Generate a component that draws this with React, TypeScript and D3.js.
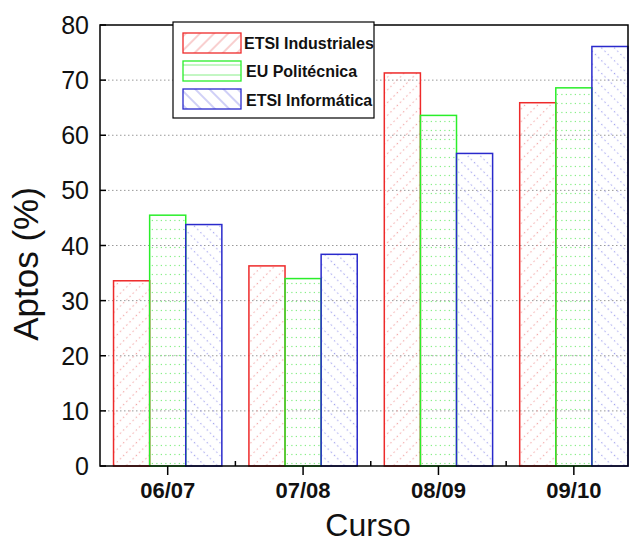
import React, { useEffect, useRef } from 'react';
import * as d3 from 'd3';

const cursos = ['06/07', '07/08', '08/09', '09/10'];
const series = ['ETSI Industriales', 'EU Politécnica', 'ETSI Informática'];
const industriales = [33.6, 36.3, 71.3, 65.9];
const politecnica = [45.5, 34.0, 63.6, 68.6];
const informatica = [43.8, 38.4, 56.7, 76.1];
const yTicks = [0, 10, 20, 30, 40, 50, 60, 70, 80];

const colors = ['#ee2a2a', '#2aee2a', '#2a2acc'];
const hatch = ['#f2a0a0', '#88ee88', '#a0a0ee'];
const angles = [45, 90, -45];

function App() {
  const ref = useRef<SVGSVGElement>(null);

  useEffect(() => {
    const width = 636;
    const height = 544;
    const left = 100, right = 628, top = 25, bottom = 466;

    const svg = d3.select(ref.current);
    svg.selectAll('*').remove();

    const values = [industriales, politecnica, informatica];

    // x is a continuous axis like in Origin: categories at 1..4
    const x = d3.scaleLinear().domain([0.5, 4.4]).range([left, right]);
    const y = d3.scaleLinear().domain([0, 80]).range([bottom, top]);
    const barW = 0.8 / 3;

    const defs = svg.append('defs');
    series.forEach((s, i) => {
      // dotted hatch for the bars
      const p = defs
        .append('pattern')
        .attr('id', `bar-${i}`)
        .attr('patternUnits', 'userSpaceOnUse')
        .attr('width', 9)
        .attr('height', 9)
        .attr('patternTransform', `rotate(${angles[i]})`);
      p.append('line')
        .attr('x1', 4.5).attr('x2', 4.5)
        .attr('y1', 0).attr('y2', 9)
        .attr('stroke', hatch[i])
        .attr('stroke-width', 1.2)
        .attr('stroke-dasharray', '1.2 3.3');

      // solid hatch for the legend
      const q = defs
        .append('pattern')
        .attr('id', `leg-${i}`)
        .attr('patternUnits', 'userSpaceOnUse')
        .attr('width', 10)
        .attr('height', 10)
        .attr('patternTransform', `rotate(${angles[i]})`);
      q.append('line')
        .attr('x1', 5).attr('x2', 5)
        .attr('y1', 0).attr('y2', 10)
        .attr('stroke', hatch[i])
        .attr('stroke-width', 1);
    });

    // grid lines
    svg
      .append('g')
      .selectAll('line')
      .data(yTicks.filter((t) => t > 0 && t < 80))
      .enter()
      .append('line')
      .attr('x1', left)
      .attr('x2', right)
      .attr('y1', (d) => y(d))
      .attr('y2', (d) => y(d))
      .attr('stroke', '#999')
      .attr('stroke-width', 1)
      .attr('stroke-dasharray', '1.5 2.5');

    // bars
    values.forEach((vals, i) => {
      svg
        .append('g')
        .selectAll('rect')
        .data(vals)
        .enter()
        .append('rect')
        .attr('x', (d, k) => x(k + 1 - 1.5 * barW + i * barW))
        .attr('y', (d) => y(d))
        .attr('width', x(barW) - x(0))
        .attr('height', (d) => y(0) - y(d))
        .attr('fill', `url(#bar-${i})`)
        .attr('stroke', colors[i])
        .attr('stroke-width', 1.5);
    });

    // frame
    svg
      .append('rect')
      .attr('x', left)
      .attr('y', top)
      .attr('width', right - left)
      .attr('height', bottom - top)
      .attr('fill', 'none')
      .attr('stroke', '#000')
      .attr('stroke-width', 1.5);

    // y ticks + labels
    const yAxis = svg.append('g').attr('font-family', 'Liberation Sans, Arial, sans-serif');
    yTicks.forEach((t) => {
      yAxis
        .append('line')
        .attr('x1', left)
        .attr('x2', left + 6)
        .attr('y1', y(t))
        .attr('y2', y(t))
        .attr('stroke', '#000')
        .attr('stroke-width', 1.5);
      yAxis
        .append('text')
        .attr('x', 89)
        .attr('y', y(t))
        .attr('dy', '0.36em')
        .attr('text-anchor', 'end')
        .attr('font-size', 25)
        .attr('fill', '#111')
        .text(t);
    });

    // x ticks + labels
    const xAxis = svg.append('g').attr('font-family', 'Liberation Sans, Arial, sans-serif');
    cursos.forEach((c, k) => {
      xAxis
        .append('line')
        .attr('x1', x(k + 1))
        .attr('x2', x(k + 1))
        .attr('y1', bottom)
        .attr('y2', bottom + 9)
        .attr('stroke', '#000')
        .attr('stroke-width', 1.5);
      xAxis
        .append('text')
        .attr('x', x(k + 1))
        .attr('y', 498)
        .attr('text-anchor', 'middle')
        .attr('font-size', 22)
        .attr('font-weight', 'bold')
        .attr('fill', '#111')
        .text(c);
    });
    [1.5, 2.5, 3.5].forEach((m) => {
      xAxis
        .append('line')
        .attr('x1', x(m))
        .attr('x2', x(m))
        .attr('y1', bottom)
        .attr('y2', bottom - 5)
        .attr('stroke', '#000')
        .attr('stroke-width', 1.5);
    });

    // axis titles
    svg
      .append('text')
      .attr('transform', 'translate(38,264) rotate(-90)')
      .attr('text-anchor', 'middle')
      .attr('font-family', 'Liberation Sans, Arial, sans-serif')
      .attr('font-size', 35)
      .attr('fill', '#111')
      .text('Aptos (%)');
    svg
      .append('text')
      .attr('x', 368)
      .attr('y', 536)
      .attr('text-anchor', 'middle')
      .attr('font-family', 'Liberation Sans, Arial, sans-serif')
      .attr('font-size', 32)
      .attr('fill', '#111')
      .text('Curso');

    // legend
    const leg = svg.append('g');
    leg
      .append('rect')
      .attr('x', 173)
      .attr('y', 22)
      .attr('width', 201)
      .attr('height', 96)
      .attr('fill', '#fff')
      .attr('stroke', '#000')
      .attr('stroke-width', 1.2);
    series.forEach((s, i) => {
      leg
        .append('rect')
        .attr('x', 183)
        .attr('y', 33 + i * 28)
        .attr('width', 58)
        .attr('height', 20)
        .attr('fill', `url(#leg-${i})`)
        .attr('stroke', colors[i])
        .attr('stroke-width', 1.3);
      leg
        .append('text')
        .attr('x', i === 0 ? 244 : 246)
        .attr('y', 48.5 + i * 28.5)
        .attr('font-family', 'Liberation Sans, Arial, sans-serif')
        .attr('font-size', 16)
        .attr('font-weight', 'bold')
        .attr('fill', '#111')
        .text(s);
    });

    svg.attr('width', width).attr('height', height);
  }, []);

  return (
    <svg
      ref={ref}
      width={636}
      height={544}
      style={{ position: 'absolute', left: 0, top: 0, background: '#fff' }}
    />
  );
}

export default App;
